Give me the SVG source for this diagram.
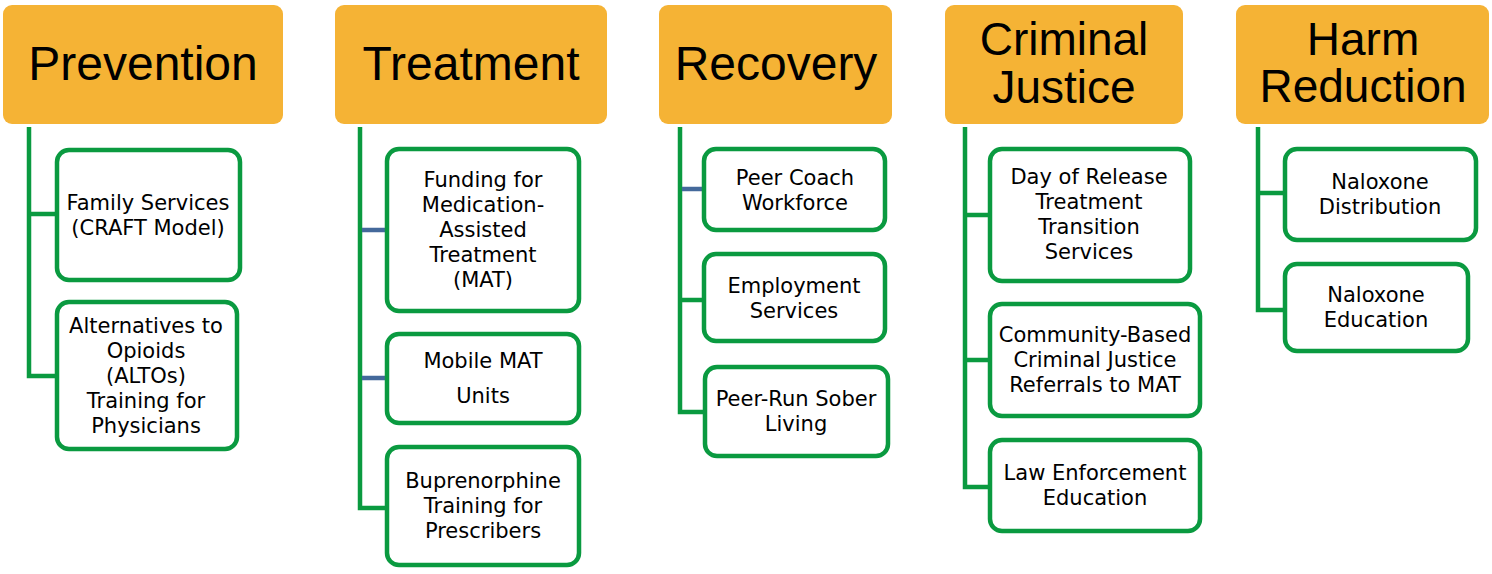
<svg xmlns="http://www.w3.org/2000/svg" width="1492" height="574" viewBox="0 0 1492 574">
<style>
.hdr{fill:#F5B335}
.ht{font-family:"Liberation Sans",Arial,sans-serif;font-size:48px;fill:#000;text-anchor:middle}
.ht2{font-size:46px}
.box{fill:#fff;stroke:#0A9A40;stroke-width:4.5}
.bt{font-family:"DejaVu Sans",Verdana,sans-serif;font-size:21px;fill:#000;text-anchor:middle}
.g{stroke:#0A9A40;stroke-width:4.5;fill:none}
.b{stroke:#44699B;stroke-width:4.5;fill:none}
</style>
<rect width="1492" height="574" fill="#fff"/>
<g id="connectors">
<path class="g" d="M29 127V376H57M29 214H57"/>
<path class="g" d="M360 127V508H385"/>
<path class="b" d="M362 230H385M362 378H385"/>
<path class="g" d="M680 127V412H703M680 300H702"/>
<path class="b" d="M682 189H702"/>
<path class="g" d="M965 127V487H988M965 215H988M965 360H988"/>
<path class="g" d="M1258 127V310H1283M1258 193H1283"/>
</g>
<g id="prevention"><rect class="hdr" x="3" y="5" width="280" height="119" rx="9"/><text class="ht" x="143" y="80">Prevention</text></g>
<g id="treatment"><rect class="hdr" x="335" y="5" width="272" height="119" rx="9"/><text class="ht" x="471" y="80">Treatment</text></g>
<g id="recovery"><rect class="hdr" x="659" y="5" width="233" height="119" rx="9"/><text class="ht" x="776" y="80">Recovery</text></g>
<g id="criminal-justice"><rect class="hdr" x="945" y="5" width="238" height="119" rx="9"/><text class="ht ht2" x="1064" y="55">Criminal</text><text class="ht ht2" x="1064" y="103">Justice</text></g>
<g id="harm-reduction"><rect class="hdr" x="1236" y="5" width="253" height="119" rx="9"/><text class="ht ht2" x="1363" y="55">Harm</text><text class="ht ht2" x="1363" y="102">Reduction</text></g>

<g id="family-services"><rect class="box" x="57" y="150" width="183" height="130" rx="12"/><text class="bt" x="148" y="210">Family Services<tspan x="148" dy="25">(CRAFT Model)</tspan></text></g>
<g id="altos"><rect class="box" x="57" y="302" width="180" height="147" rx="12"/><text class="bt" x="146" y="333">Alternatives to<tspan x="146" dy="25">Opioids</tspan><tspan x="146" dy="25">(ALTOs)</tspan><tspan x="146" dy="25">Training for</tspan><tspan x="146" dy="25">Physicians</tspan></text></g>

<g id="funding-mat"><rect class="box" x="387" y="149" width="192" height="162" rx="12"/><text class="bt" x="483" y="187">Funding for<tspan x="483" dy="25">Medication-</tspan><tspan x="483" dy="25">Assisted</tspan><tspan x="483" dy="25">Treatment</tspan><tspan x="483" dy="25">(MAT)</tspan></text></g>
<g id="mobile-mat"><rect class="box" x="387" y="334" width="192" height="89" rx="12"/><text class="bt" x="483" y="368">Mobile MAT<tspan x="483" dy="35">Units</tspan></text></g>
<g id="buprenorphine"><rect class="box" x="387" y="447" width="192" height="118" rx="12"/><text class="bt" x="483" y="488">Buprenorphine<tspan x="483" dy="25">Training for</tspan><tspan x="483" dy="25">Prescribers</tspan></text></g>

<g id="peer-coach"><rect class="box" x="704" y="149" width="181" height="81" rx="12"/><text class="bt" x="795" y="185">Peer Coach<tspan x="795" dy="25">Workforce</tspan></text></g>
<g id="employment"><rect class="box" x="704" y="254" width="181" height="87" rx="12"/><text class="bt" x="794" y="293">Employment<tspan x="794" dy="25">Services</tspan></text></g>
<g id="sober-living"><rect class="box" x="705" y="367" width="183" height="89" rx="12"/><text class="bt" x="796" y="406">Peer-Run Sober<tspan x="796" dy="25">Living</tspan></text></g>

<g id="day-of-release"><rect class="box" x="990" y="149" width="200" height="132" rx="12"/><text class="bt" x="1089" y="184">Day of Release<tspan x="1089" dy="25">Treatment</tspan><tspan x="1089" dy="25">Transition</tspan><tspan x="1089" dy="25">Services</tspan></text></g>
<g id="community-referrals"><rect class="box" x="990" y="304" width="210" height="112" rx="12"/><text class="bt" x="1095" y="342">Community-Based<tspan x="1095" dy="25">Criminal Justice</tspan><tspan x="1095" dy="25">Referrals to MAT</tspan></text></g>
<g id="law-enforcement"><rect class="box" x="990" y="440" width="210" height="91" rx="12"/><text class="bt" x="1095" y="480">Law Enforcement<tspan x="1095" dy="25">Education</tspan></text></g>

<g id="naloxone-distribution"><rect class="box" x="1285" y="149" width="191" height="91" rx="12"/><text class="bt" x="1380" y="189">Naloxone<tspan x="1380" dy="25">Distribution</tspan></text></g>
<g id="naloxone-education"><rect class="box" x="1285" y="264" width="183" height="87" rx="12"/><text class="bt" x="1376" y="302">Naloxone<tspan x="1376" dy="25">Education</tspan></text></g>
</svg>
